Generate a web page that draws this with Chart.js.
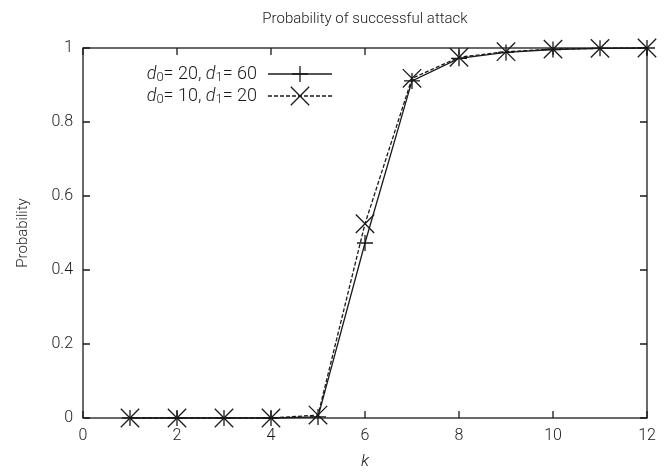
<!DOCTYPE html>
<html>
<head>
<meta charset="utf-8">
<script src="https://cdn.jsdelivr.net/npm/chart.js@4"></script>
<style>
  html, body { margin: 0; padding: 0; background: #fff; }
  #wrap { width: 671px; height: 472px; }
</style>
</head>
<body>
<div id="wrap"><canvas id="attackChart" width="671" height="472"></canvas></div>
<script>
const kValues = [1, 2, 3, 4, 5, 6, 7, 8, 9, 10, 11, 12];
const probA = [0, 0, 0, 0, 0.003, 0.473, 0.911, 0.972, 0.988, 0.996, 0.999, 1]; // d0=20, d1=60
const probB = [0, 0, 0, 0, 0.008, 0.525, 0.918, 0.975, 0.99, 0.997, 0.999, 1]; // d0=10, d1=20
const xTicks = [0, 2, 4, 6, 8, 10, 12];
const yTicks = [0, 0.2, 0.4, 0.6, 0.8, 1];

const fontName = 'Roboto';
const ink = '#1a1a1a';

const toPoints = ys => kValues.map((k, i) => ({x: k, y: ys[i]}));

// frame + inward ticks on all four sides, and the gnuplot-style legend
const framePlugin = {
  id: 'frame',
  beforeDatasetsDraw(chart) {
    const {ctx, chartArea: a, scales} = chart;
    ctx.save();
    ctx.strokeStyle = ink;
    ctx.lineWidth = 1.3;
    ctx.strokeRect(a.left, a.top, a.right - a.left, a.bottom - a.top);
    const len = 7;
    ctx.beginPath();
    xTicks.forEach(v => {
      const px = scales.x.getPixelForValue(v);
      ctx.moveTo(px, a.bottom); ctx.lineTo(px, a.bottom - len);
      ctx.moveTo(px, a.top); ctx.lineTo(px, a.top + len);
    });
    yTicks.forEach(v => {
      const py = scales.y.getPixelForValue(v);
      ctx.moveTo(a.left, py); ctx.lineTo(a.left + len, py);
      ctx.moveTo(a.right, py); ctx.lineTo(a.right - len, py);
    });
    ctx.stroke();
    ctx.restore();
  },
  afterDraw(chart) {
    const {ctx} = chart;
    ctx.save();
    ctx.strokeStyle = ink;
    const rows = [
      {sub: ['0', '1'], vals: ['20', '60'], ds: 0},
      {sub: ['0', '1'], vals: ['10', '20'], ds: 1}
    ];
    const textRight = 257, lineL = 268, lineR = 332;
    rows.forEach((r, i) => {
      const y = 74 + i * 22;
      const parts = [
        {t: 'd', f: 'italic 300 18px ' + fontName, dy: 0},
        {t: r.sub[0], f: '300 13px ' + fontName, dy: 4},
        {t: '= ' + r.vals[0] + ', ', f: '300 18px ' + fontName, dy: 0},
        {t: 'd', f: 'italic 300 18px ' + fontName, dy: 0},
        {t: r.sub[1], f: '300 13px ' + fontName, dy: 4},
        {t: '= ' + r.vals[1], f: '300 18px ' + fontName, dy: 0}
      ];
      let w = 0;
      parts.forEach(p => { ctx.font = p.f; w += ctx.measureText(p.t).width; });
      let x = textRight - w;
      ctx.fillStyle = ink;
      ctx.textBaseline = 'middle';
      ctx.textAlign = 'left';
      parts.forEach(p => {
        ctx.font = p.f;
        ctx.fillText(p.t, x, y + p.dy);
        x += ctx.measureText(p.t).width;
      });
      const ds = chart.data.datasets[r.ds];
      ctx.beginPath();
      ctx.setLineDash(ds.borderDash || []);
      ctx.lineWidth = 1.3;
      ctx.moveTo(lineL, y); ctx.lineTo(lineR, y);
      ctx.stroke();
      ctx.setLineDash([]);
      Chart.helpers.drawPoint(ctx, {pointStyle: ds.pointStyle, radius: ds.pointRadius, borderWidth: 1.3}, (lineL + lineR) / 2, y);
    });
    ctx.restore();
  }
};

new Chart(document.getElementById('attackChart'), {
  type: 'line',
  data: {
    datasets: [{
      data: toPoints(probA),
      borderColor: ink,
      borderWidth: 1.3,
      pointStyle: 'cross',
      pointRadius: 8,
      pointBorderColor: ink,
      pointBorderWidth: 1.3,
      fill: false,
      clip: false,
      tension: 0
    }, {
      data: toPoints(probB),
      borderColor: ink,
      borderWidth: 1.3,
      borderDash: [4, 2],
      pointStyle: 'crossRot',
      pointRadius: 13,
      pointBorderColor: ink,
      pointBorderWidth: 1.3,
      fill: false,
      clip: false,
      tension: 0
    }]
  },
  options: {
    responsive: false,
    animation: false,
    layout: {padding: {top: 48, right: 24, left: 0, bottom: 0}},
    plugins: {
      legend: {display: false},
      tooltip: {enabled: false},
      title: {display: false}
    },
    scales: {
      x: {
        type: 'linear',
        min: 0, max: 12,
        afterFit: s => { s.height = 54; },
        afterBuildTicks: s => { s.ticks = xTicks.map(v => ({value: v})); },
        grid: {display: false, drawTicks: false},
        border: {display: false},
        ticks: {color: ink, padding: 8, font: {family: fontName, size: 16, weight: 300}},
        title: {display: true, text: 'k', color: ink, padding: {top: 0, bottom: 0},
          font: {family: fontName, size: 17, style: 'italic', weight: 300}}
      },
      y: {
        min: 0, max: 1,
        afterFit: s => { s.width = 83; },
        afterBuildTicks: s => { s.ticks = yTicks.map(v => ({value: v})); },
        grid: {display: false, drawTicks: false},
        border: {display: false},
        ticks: {color: ink, padding: 10, font: {family: fontName, size: 16, weight: 300},
          callback: v => String(v)},
        title: {display: true, text: 'Probability', color: ink, padding: {top: 14, bottom: 0},
          font: {family: fontName, size: 15, weight: 300}}
      }
    }
  },
  plugins: [framePlugin, {
    id: 'topTitle',
    afterDraw(chart) {
      const {ctx, chartArea: a} = chart;
      ctx.save();
      ctx.fillStyle = ink;
      ctx.font = '300 15px ' + fontName;
      ctx.textAlign = 'center';
      ctx.textBaseline = 'middle';
      ctx.fillText('Probability of successful attack', (a.left + a.right) / 2, 19);
      ctx.restore();
    }
  }]
});
</script>
</body>
</html>
